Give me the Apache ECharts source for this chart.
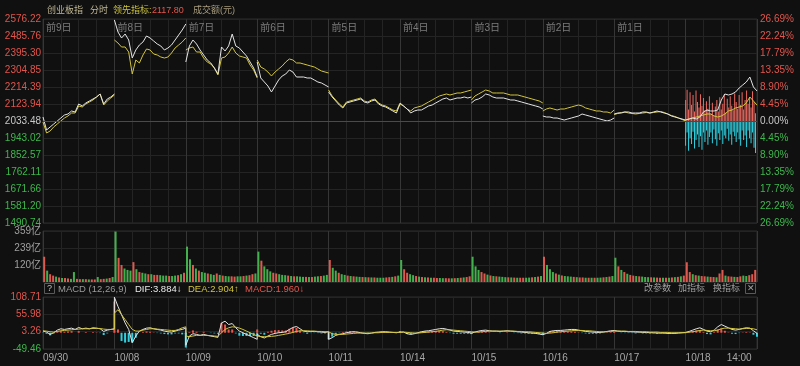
<!DOCTYPE html>
<html><head><meta charset="utf-8">
<script src="https://cdn.jsdelivr.net/npm/echarts@6/dist/echarts.min.js"></script>
<style>html,body{margin:0;padding:0;background:#101010;}#c{width:800px;height:366px;}</style>
</head><body><div id="c"></div>
<script>
// ---------- data ----------
const prevClose = 2033.48;
const leftTicks = ['1490.74','1581.20','1671.66','1762.11','1852.57','1943.02','2033.48','2123.94','2214.39','2304.85','2395.30','2485.76','2576.22'];
const rightTicks = ['26.69%','22.24%','17.79%','13.35%','8.90%','4.45%','0.00%','4.45%','8.90%','13.35%','17.79%','22.24%','26.69%'];
const volTicks = ['','120亿','239亿','359亿'];
const macdTicks = ['-49.46','3.26','55.98','108.71'];
const dayTags = ['前9日','前8日','前7日','前6日','前5日','前4日','前3日','前2日','前1日'];
const dates = ['09/30','10/08','10/09','10/10','10/11','10/14','10/15','10/16','10/17','10/18'];

// index (white), 12-minute samples per day
const indexLine = [
 [2054.8,1985.6,2001.6,2017.5,2033.5,2049.4,2065.4,2070.7,2086.7,2081.4,2124.0,2113.3,2129.3,2139.9,2150.5,2161.2,2177.2,2124.0,2150.5,2161.2,2177.2],
 [2570.9,2507.1,2475.1,2496.4,2464.5,2368.7,2411.3,2437.9,2453.8,2485.8,2475.1,2459.2,2443.2,2432.6,2411.3,2421.9,2437.9,2464.5,2491.1,2517.7,2549.6],
 [2347.4,2432.6,2464.5,2443.2,2411.3,2384.7,2358.1,2342.1,2315.5,2283.6,2427.3,2406.0,2432.6,2496.4,2432.6,2421.9,2400.6,2379.4,2347.4,2315.5,2267.6],
 [2347.4,2262.3,2241.0,2219.7,2187.8,2219.7,2251.7,2272.9,2283.6,2304.9,2294.2,2267.6,2267.6,2267.6,2262.3,2262.3,2251.7,2241.0,2235.7,2225.1,2214.4],
 [2187.8,2161.2,2139.9,2118.6,2102.7,2129.3,2134.6,2139.9,2145.2,2150.5,2134.6,2129.3,2139.9,2145.2,2124.0,2113.3,2108.0,2097.3,2086.7,2076.0,2124.0],
 [2129.3,2113.3,2097.3,2076.0,2086.7,2092.0,2092.0,2102.7,2113.3,2118.6,2129.3,2139.9,2150.5,2155.9,2145.2,2150.5,2155.9,2155.9,2161.2,2155.9,2161.2],
 [2129.3,2145.2,2150.5,2161.2,2177.2,2171.8,2161.2,2155.9,2155.9,2155.9,2150.5,2145.2,2145.2,2139.9,2134.6,2129.3,2124.0,2118.6,2113.3,2108.0,2097.3],
 [2060.1,2054.8,2054.8,2049.4,2049.4,2044.1,2038.8,2044.1,2049.4,2054.8,2060.1,2070.7,2065.4,2060.1,2054.8,2049.4,2044.1,2038.8,2033.5,2038.8,2049.4],
 [2070.7,2076.0,2076.0,2081.4,2081.4,2076.0,2076.0,2076.0,2081.4,2081.4,2076.0,2081.4,2086.7,2081.4,2076.0,2070.7,2060.1,2054.8,2049.4,2044.1,2038.8],
 [2038.8,2044.1,2049.4,2044.1,2054.8,2081.4,2092.0,2086.7,2086.7,2092.0,2145.2,2177.2,2171.8,2177.2,2187.8,2209.1,2225.1,2241.0,2267.6,2214.4,2193.1]
];
// leading indicator (yellow)
const leadLine = [
 [2028.2,1969.6,1980.3,2001.6,2017.5,2033.5,2049.4,2060.1,2076.0,2076.0,2113.3,2108.0,2124.0,2134.6,2145.2,2161.2,2177.2,2118.6,2139.9,2155.9,2171.8],
 [2464.5,2448.5,2427.3,2427.3,2400.6,2283.6,2358.1,2342.1,2384.7,2416.6,2411.3,2390.0,2384.7,2374.0,2368.7,2374.0,2395.3,2421.9,2437.9,2453.8,2475.1],
 [2411.3,2421.9,2427.3,2400.6,2400.6,2368.7,2347.4,2336.8,2315.5,2278.3,2368.7,2374.0,2395.3,2427.3,2395.3,2379.4,2374.0,2368.7,2331.5,2304.9,2262.3],
 [2358.1,2320.8,2310.2,2294.2,2272.9,2294.2,2310.2,2326.2,2347.4,2363.4,2358.1,2342.1,2342.1,2336.8,2331.5,2326.2,2320.8,2310.2,2299.5,2294.2,2288.9],
 [2198.4,2166.5,2145.2,2124.0,2108.0,2134.6,2139.9,2145.2,2150.5,2155.9,2139.9,2134.6,2145.2,2150.5,2129.3,2118.6,2113.3,2102.7,2092.0,2086.7,2129.3],
 [2124.0,2113.3,2097.3,2086.7,2102.7,2108.0,2113.3,2124.0,2134.6,2145.2,2155.9,2166.5,2171.8,2177.2,2171.8,2177.2,2182.5,2182.5,2187.8,2193.1,2198.4],
 [2145.2,2166.5,2177.2,2187.8,2198.4,2193.1,2182.5,2182.5,2182.5,2182.5,2177.2,2171.8,2171.8,2171.8,2166.5,2161.2,2155.9,2150.5,2145.2,2139.9,2129.3],
 [2086.7,2097.3,2102.7,2097.3,2092.0,2097.3,2097.3,2102.7,2108.0,2113.3,2118.6,2113.3,2102.7,2097.3,2092.0,2086.7,2086.7,2081.4,2081.4,2076.0,2092.0],
 [2068.0,2073.4,2078.7,2081.4,2076.0,2073.4,2070.7,2073.4,2076.0,2078.7,2076.0,2078.7,2081.4,2084.0,2078.7,2070.7,2062.8,2057.4,2049.4,2041.5,2033.5],
 [2038.8,2044.1,2049.4,2054.8,2060.1,2065.4,2070.7,2070.7,2060.1,2054.8,2060.1,2070.7,2086.7,2092.0,2102.7,2108.0,2113.3,2129.3,2161.2,2139.9,2117.8]
];
// today's buy / sell strength bars (5-minute steps, % units)
const buyPower = [5.5,8.2,3.0,7.5,4.2,6.8,2.5,8.0,5.0,3.5,7.0,4.0,6.0,2.8,5.2,3.2,6.5,2.0,4.8,1.5,3.8,5.5,2.5,6.2,3.0,4.5,7.0,2.2,5.8,3.5,6.5,4.0,2.8,7.2,5.0,3.2,6.8,4.2,7.5,3.0,5.5,8.0,4.5,6.0,3.5,7.8,5.0,2.0];
const sellPower = [-6.5,-3.0,-7.8,-4.5,-6.0,-2.8,-7.2,-5.0,-3.5,-6.8,-4.0,-7.5,-3.0,-5.5,-2.5,-6.2,-4.2,-3.0,-5.8,-2.2,-4.8,-6.5,-3.2,-5.0,-2.5,-6.0,-3.8,-4.5,-2.0,-5.2,-3.5,-6.2,-2.8,-4.0,-5.5,-3.0,-4.8,-6.5,-2.5,-5.0,-3.8,-6.8,-2.5,-4.5,-5.8,-3.0,-7.0,-8.4];
// turnover (亿), 10-minute buckets
const volume = [
 [178,80,55,45,38,32,28,28,25,22,70,22,20,20,20,18,18,18,35,20,22,24,28,35],
 [355,170,120,95,85,80,140,90,70,65,60,55,55,50,50,48,45,45,42,42,45,48,55,65],
 [249,160,120,95,80,70,65,60,55,50,60,50,45,42,40,40,38,40,40,42,45,48,55,60],
 [214,150,110,90,75,65,60,55,50,48,45,42,40,40,38,36,36,35,35,38,40,42,45,50],
 [155,100,80,65,55,50,45,42,40,38,36,35,34,33,32,32,30,30,30,32,34,36,40,45],
 [155,90,65,55,48,42,38,35,33,32,30,30,28,28,27,27,26,26,27,28,30,32,35,40],
 [178,110,85,70,60,52,46,42,40,38,36,34,33,32,31,30,30,30,30,31,33,35,38,42],
 [178,120,90,70,60,52,46,42,40,38,36,34,32,32,30,30,30,30,30,31,33,35,38,42],
 [171,110,85,70,58,50,45,42,40,38,35,34,33,32,31,30,30,30,30,32,34,36,40,45],
 [139,70,55,48,45,42,40,38,36,35,33,60,85,45,40,38,36,35,40,45,42,48,55,85]
];
const volumeUp = [
 'rgrrgrgrrggrrgrgrrgrrgrg','grrgggrgrggrgrrgggrggrgr','ggrgrggrggrgrggrrggrgrrg','grgggrrgggrgrgggrgrggrgg','rggrggrgrggrgrgrgggrrgrg',
 'grrggrgrgrgrrggrrgrgrgrr','gggrrgrgrgggrgrgrrggrgrg','rgggrgrgggrgrrgrgrggrgrg','grgrgrrgrgggrgrrgrgrgrgr','rrgrgrrgrrgrrgrrgrrggrrr'
];
// MACD (12,26,9)
const macdDif = [
 [5,2,-5,0,8,12,10,12,14,10,16,12,14,12,15,14,12,4,8,10,12],
 [108,80,55,30,10,-30,-10,5,10,14,15,12,10,8,5,3,2,5,8,10,14],
 [-38,-10,-3,-5,-8,-5,-8,-10,-12,-14,30,35,25,28,15,5,0,-5,-10,-15,-20],
 [-5,-12,-16,-10,-5,-2,0,1,3,10,16,19,12,5,3,4,4,3,2,1,3],
 [-20,-15,-8,-5,-3,0,2,3,2,0,-2,-3,-1,1,2,3,3,2,1,0,2],
 [7,2,-3,-5,-3,0,3,5,6,8,10,12,13,11,8,5,4,3,2,1,-1],
 [-2,2,5,7,8,6,5,5,4,5,6,5,4,3,2,1,0,-1,-2,-4,-6],
 [-8,-2,4,6,7,7,8,9,10,10,8,6,4,3,2,1,1,2,4,6,7],
 [6,5,4,4,3,3,2,2,1,1,0,0,-1,-1,-1,-2,-2,-2,-1,0,1],
 [2,4,8,12,15,10,5,3,8,18,25,20,15,10,8,10,13,15,14,6,-2]
];
const macdDea = [
 [6,5,3,2,4,6,7,8,9,10,11,12,12,12,13,13,13,11,10,10,11],
 [60,70,55,40,25,10,5,5,8,10,12,12,11,10,9,8,7,7,10,15,18],
 [-10,-12,-10,-8,-8,-8,-8,-9,-10,-11,0,10,15,18,17,14,10,5,0,-5,-10],
 [-12,-12,-12,-12,-11,-10,-8,-6,-4,-2,1,4,6,6,6,5,5,4,4,3,3],
 [0,-3,-5,-5,-5,-4,-3,-2,-1,-1,-1,-1,-1,0,0,1,1,1,1,1,1],
 [2,2,1,0,-1,-1,0,1,2,3,4,6,8,9,9,8,7,6,5,4,3],
 [2,2,2,3,4,5,5,5,5,5,5,5,5,4,4,3,3,2,1,0,-1],
 [-2,-2,-1,0,2,3,4,5,6,7,7,7,6,6,5,4,3,3,3,4,5],
 [5,5,5,5,4,4,4,3,3,3,2,2,2,1,1,1,0,0,0,0,0],
 [1,2,3,5,7,8,7,6,6,8,12,14,14,13,12,11,12,13,13,12,9]
];
const macdHist = [
 [-1,-3,-8,-2,4,6,3,4,5,0,5,0,2,0,2,1,-1,-7,-2,0,1],
 [95,10,-25,-30,-28,-30,-15,0,2,4,3,1,-1,-2,-4,-5,-5,-2,-2,-5,-4],
 [-45,2,7,3,0,3,0,-1,-2,-3,30,25,10,10,-2,-9,-10,-10,-10,-10,-10],
 [10,-3,-6,3,6,8,8,7,7,12,15,15,6,-1,-3,-1,-1,-1,-2,-2,0],
 [-20,-12,-5,-1,2,4,5,5,3,1,-1,-2,0,1,2,2,2,1,0,-1,1],
 [5,0,-4,-5,-2,1,3,4,4,5,6,6,5,2,-1,-3,-3,-3,-3,-3,-4],
 [-4,0,3,4,4,1,0,0,-1,0,1,0,-1,-1,-2,-2,-3,-3,-3,-4,-5],
 [-6,0,5,6,5,4,4,4,4,3,1,-1,-2,-3,-3,-3,-2,-1,1,2,2],
 [1,0,-1,-1,-1,-1,-2,-1,-2,-2,-2,-2,-3,-2,-2,-3,-2,-2,-1,0,1],
 [1,2,5,7,8,2,-4,-5,2,10,13,6,1,-3,-4,-1,1,2,1,-6,-12]
];
const macdLast = {dif:'3.884', dea:'2.904', macd:'1.960'};

// ---------- build ----------
const DAY = 240, STEP = 12;
const FONT = 'Arial, "Liberation Sans", "Noto Sans CJK SC", sans-serif';
const RED = '#e2554c', GREEN = '#3db84c', GRIDC = '#242424', DAYC = '#363636';
const WHITE = '#e4e4e4', YEL = '#d2c43e', CYAN = '#30d2e2';

function dayLines(days){ const out=[]; days.forEach((arr,d)=>{ arr.forEach((v,k)=>out.push([d*DAY+k*STEP, v])); out.push([d*DAY+DAY-0.5, '-']); }); return out; }
function joined(days){ const out=[]; days.forEach((arr,d)=>arr.forEach((v,k)=>out.push([d*DAY+k*STEP, v]))); return out; }

const bsData = [];
buyPower.forEach((v,i)=>bsData.push({value:[9*DAY+i*5, v], itemStyle:{color:'#ee6a62'}}));
sellPower.forEach((v,i)=>bsData.push({value:[9*DAY+i*5, v], itemStyle:{color:CYAN}}));

const volData = [];
volume.forEach((arr,d)=>arr.forEach((v,i)=>volData.push({value:[d*DAY+i*10+4, v], itemStyle:{color: volumeUp[d][i]==='r' ? '#dc5a50' : '#43b04e'}})));

const histData = [];
macdHist.forEach((arr,d)=>arr.forEach((v,k)=>histData.push({value:[d*DAY+k*STEP, v], itemStyle:{color: v>=0 ? '#e8564c' : CYAN}})));

const leftMin = 1490.74, leftMax = 2576.22, leftInt = (leftMax-leftMin)/12;
const pctMax = 26.69, pctInt = pctMax/6;
const volMax = 359, volInt = volMax/3;
const mMin = -49.46, mMax = 108.71, mInt = (mMax-mMin)/3;

function lbl(size){ return {fontSize:size, fontFamily:FONT}; }
const richLR = {
  r:Object.assign({color:RED}, lbl(10)), g:Object.assign({color:GREEN}, lbl(10)), w:Object.assign({color:'#c8c8c8'}, lbl(10))
};
function hourAxis(grid){ return {type:'value', gridIndex:grid, position:'bottom', min:0, max:10*DAY, interval:60, axisLine:{show:false}, axisTick:{show:false}, axisLabel:{show:false}, splitLine:{show:true, lineStyle:{color:GRIDC, width:1}}}; }
function dayAxis(grid){ return {type:'value', gridIndex:grid, position:'bottom', min:0, max:10*DAY, interval:DAY, axisLine:{show:false}, axisTick:{show:false}, axisLabel:{show:false}, splitLine:{show:true, lineStyle:{color:DAYC, width:1}}}; }

const xAxes = [
  hourAxis(0),
  Object.assign(dayAxis(0), {position:'top', axisLabel:{show:true, inside:true, margin:4, align:'left', verticalAlign:'top', padding:[0,0,0,3], color:'#7c7c7c', fontSize:10, fontFamily:FONT, showMinLabel:true, showMaxLabel:false, formatter:v=>dayTags[Math.round(v/DAY)]||''}}),
  hourAxis(1),
  dayAxis(1),
  hourAxis(2),
  Object.assign(dayAxis(2), {axisLabel:{show:true, margin:4, align:'left', color:'#a8a8a8', fontSize:10, fontFamily:FONT, showMinLabel:true, showMaxLabel:false, formatter:v=>dates[Math.round(v/DAY)]||''}}),
  {type:'value', gridIndex:2, position:'bottom', min:0, max:10*DAY, interval:60, axisLine:{show:false}, axisTick:{show:false}, splitLine:{show:false},
   axisLabel:{show:true, margin:4, align:'center', color:'#a8a8a8', fontSize:10, fontFamily:FONT, showMinLabel:false, showMaxLabel:false, formatter:v=>v===9*DAY+180?'14:00':''}}
];

const yAxes = [
  {type:'value', gridIndex:0, position:'left', min:leftMin, max:leftMax, interval:leftInt, axisLine:{show:false}, axisTick:{show:false},
   splitLine:{show:true, lineStyle:{color:GRIDC}},
   axisLabel:{margin:2, showMinLabel:true, showMaxLabel:true, rich:richLR, formatter:v=>{const i=Math.round((v-leftMin)/leftInt); const t=leftTicks[i]; if(t==null) return ''; return (i>6?'{r|':i<6?'{g|':'{w|')+t+'}';}}},
  {type:'value', gridIndex:0, position:'right', min:-pctMax, max:pctMax, interval:pctInt, axisLine:{show:false}, axisTick:{show:false}, splitLine:{show:false},
   axisLabel:{margin:3, showMinLabel:true, showMaxLabel:true, rich:richLR, formatter:v=>{const i=Math.round((v+pctMax)/pctInt); const t=rightTicks[i]; if(t==null) return ''; return (i>6?'{r|':i<6?'{g|':'{w|')+t+'}';}}},
  {type:'value', gridIndex:1, position:'left', min:0, max:volMax, interval:volInt, axisLine:{show:false}, axisTick:{show:false},
   splitLine:{show:true, lineStyle:{color:GRIDC}},
   axisLabel:{margin:2, color:'#a0a0a0', fontSize:10, fontFamily:FONT, showMaxLabel:true, formatter:v=>volTicks[Math.round(v/volInt)]||''}},
  {type:'value', gridIndex:2, position:'left', min:mMin, max:mMax, interval:mInt, axisLine:{show:false}, axisTick:{show:false},
   splitLine:{show:true, lineStyle:{color:GRIDC}},
   axisLabel:{margin:2, showMinLabel:true, showMaxLabel:true, rich:richLR, formatter:v=>{const i=Math.round((v-mMin)/mInt); const t=macdTicks[i]; if(t==null) return ''; return (i>=1?'{r|':'{g|')+t+'}';}}}
];

const hdr = (x,y,text,fill,size,align)=>({type:'text', x:x, y:y, silent:true, style:{text:text, fill:fill, font:(size||10)+'px Arial, "Noto Sans CJK SC", sans-serif', verticalAlign:'middle', align:align||'left'}});
const boxR = (x,y,w,h)=>({type:'rect', silent:true, shape:{x:x, y:y, width:w, height:h}, style:{fill:'none', stroke:'#5a5a5a', lineWidth:1}});
const leadNow = leadLine[9][leadLine[9].length-1].toFixed(2);

const option = {
  backgroundColor:'#101010',
  animation:false,
  grid:[
    {left:43, right:43, top:19, height:204, show:true, borderColor:'#2c2c2c', borderWidth:1, backgroundColor:'transparent'},
    {left:43, right:43, top:231, height:51, show:true, borderColor:'#2c2c2c', borderWidth:1, backgroundColor:'transparent'},
    {left:43, right:43, top:297, height:52, show:true, borderColor:'#2c2c2c', borderWidth:1, backgroundColor:'transparent'}
  ],
  xAxis:xAxes,
  yAxis:yAxes,
  graphic:[
    hdr(47,11,'创业板指','#c2b894',9),
    hdr(90,11,'分时','#c2b894',9),
    hdr(113,11,'领先指标:','#cdc23c',9),
    hdr(152,11,leadNow,'#e4574c',9),
    hdr(193,11,'成交额(元)','#a99c7e',9),
    boxR(44.5,283.5,10,10), hdr(49.5,289,'?','#c0c0c0',9,'center'),
    hdr(58,289,'MACD (12,26,9)','#9a9a9a',9.5),
    hdr(135,289,'DIF:'+macdLast.dif+'↓','#e8e8e8',9.5),
    hdr(188,289,'DEA:'+macdLast.dea+'↑',YEL,9.5),
    hdr(245,289,'MACD:'+macdLast.macd+'↓','#e4574c',9.5),
    hdr(644,289,'改参数','#a0a0a0',9),
    hdr(678,289,'加指标','#a0a0a0',9),
    hdr(713,289,'换指标','#a0a0a0',9),
    boxR(745.5,283.5,10,10), hdr(750.5,289,'✕','#a0a0a0',9,'center')
  ],
  series:[
    {type:'bar', xAxisIndex:0, yAxisIndex:1, barWidth:1, data:bsData, z:2},
    {type:'line', xAxisIndex:0, yAxisIndex:0, data:dayLines(leadLine), showSymbol:false, symbol:'none', connectNulls:false, lineStyle:{color:YEL, width:1}, z:3,
     markLine:{silent:true, symbol:'none', label:{show:false}, lineStyle:{color:'#4a4a4a', type:'solid', width:1}, data:[{yAxis:prevClose}]}},
    {type:'line', xAxisIndex:0, yAxisIndex:0, data:dayLines(indexLine), showSymbol:false, symbol:'none', connectNulls:false, lineStyle:{color:WHITE, width:1}, z:4},
    {type:'bar', xAxisIndex:2, yAxisIndex:2, barWidth:2, data:volData},
    {type:'bar', xAxisIndex:4, yAxisIndex:3, barWidth:2, data:histData},
    {type:'line', xAxisIndex:4, yAxisIndex:3, data:joined(macdDif), showSymbol:false, symbol:'none', lineStyle:{color:WHITE, width:1}},
    {type:'line', xAxisIndex:4, yAxisIndex:3, data:joined(macdDea), showSymbol:false, symbol:'none', lineStyle:{color:YEL, width:1}}
  ]
};
const chart = echarts.init(document.getElementById('c'));
chart.setOption(option);
</script>
</body></html>
